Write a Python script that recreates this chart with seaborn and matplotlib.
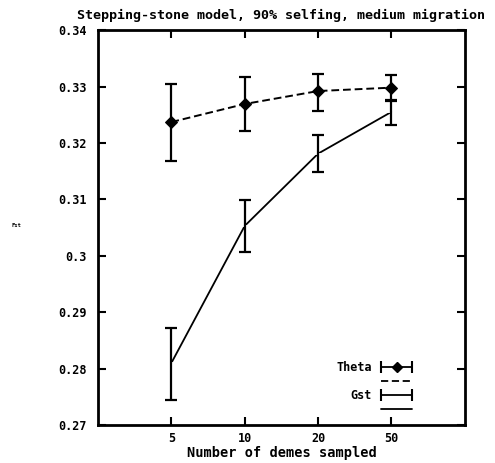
import numpy as np
import pandas as pd
import matplotlib
matplotlib.use('Agg')
import matplotlib.pyplot as plt
import seaborn as sns
from matplotlib.lines import Line2D
from matplotlib.legend_handler import HandlerLine2D

# data
demes = ['5', '10', '20', '50']
theta = [0.3237, 0.3269, 0.3292, 0.3298]
theta_lo = [0.3168, 0.3222, 0.3257, 0.3276]
theta_hi = [0.3305, 0.3316, 0.3323, 0.3321]
gst = [0.2810, 0.3053, 0.3181, 0.3255]
gst_lo = [0.2744, 0.3007, 0.3149, 0.3232]
gst_hi = [0.2872, 0.3098, 0.3214, 0.3275]

sns.set_style('ticks', {'axes.edgecolor': 'black', 'xtick.color': 'black',
                        'ytick.color': 'black', 'text.color': 'black',
                        'axes.labelcolor': 'black'})
plt.rcParams['font.family'] = ['DejaVu Sans Mono']
plt.rcParams['font.weight'] = 'bold'

pos = np.arange(1, len(demes) + 1)
df = pd.DataFrame({'pos': np.concatenate([pos, pos]),
                   'val': theta + gst,
                   'series': ['Theta'] * 4 + ['Gst'] * 4})

fig = plt.figure(figsize=(4.95, 4.63), dpi=100)
ax = fig.add_axes([0.198, 0.082, 0.741, 0.853])

sns.lineplot(data=df[df.series == 'Theta'], x='pos', y='val', ax=ax,
             color='black', lw=1.4, linestyle=(0, (4, 2)), marker='D',
             markersize=6, markeredgecolor='black', legend=False)
sns.lineplot(data=df[df.series == 'Gst'], x='pos', y='val', ax=ax,
             color='black', lw=1.3, marker='+', markersize=9,
             markeredgewidth=1.3, legend=False)

t = np.array(theta); g = np.array(gst)
ax.errorbar(pos, t, yerr=[t - np.array(theta_lo), np.array(theta_hi) - t],
            fmt='none', ecolor='black', elinewidth=1.6, capsize=4, capthick=1.6)
ax.errorbar(pos, g, yerr=[g - np.array(gst_lo), np.array(gst_hi) - g],
            fmt='none', ecolor='black', elinewidth=1.6, capsize=4, capthick=1.6)

ax.set_xlim(0, 5)
ax.set_ylim(0.27, 0.34)
ax.set_xticks(pos)
ax.set_xticklabels(demes)
ax.set_yticks([0.27, 0.28, 0.29, 0.30, 0.31, 0.32, 0.33, 0.34])
ax.set_yticklabels(['0.27', '0.28', '0.29', '0.3', '0.31', '0.32', '0.33', '0.34'])
ax.tick_params(direction='in', top=True, right=True, length=6, width=1.5,
               labelsize=8.5, colors='black')
ax.tick_params(axis='x', pad=5)
ax.tick_params(axis='y', pad=8)
for s in ax.spines.values():
    s.set_linewidth(2)
    s.set_color('black')

ax.set_xlabel('Number of demes sampled', fontsize=9.8, fontweight='bold', labelpad=1)
ax.set_ylabel('Fst', fontsize=4, fontweight='bold', rotation=0, labelpad=30)
ax.set_title('Stepping-stone model, 90% selfing, medium migration',
             fontsize=9.6, fontweight='bold', pad=8)

# gnuplot-like key
cap_th = Line2D([], [], color='black', lw=1.3, marker='|', markersize=9, markeredgewidth=1.5)
dia = Line2D([], [], color='black', lw=0, marker='D', markersize=5)
cap_g = Line2D([], [], color='black', lw=1.3, marker='|', markersize=9, markeredgewidth=1.5)
dash = Line2D([], [], color='black', lw=1.3, linestyle=(0, (4, 2)))
solid = Line2D([], [], color='black', lw=1.3)
ax.legend([(cap_th, dia), dash, (cap_g,), solid], ['Theta', '', 'Gst', ''],
          loc='lower right', bbox_to_anchor=(0.895, -0.005), frameon=False,
          markerfirst=False, numpoints=2, handlelength=3.2, fontsize=8.5,
          labelspacing=0.1, handletextpad=0.5,
          handler_map={dia: HandlerLine2D(numpoints=1)})

fig.savefig('out.png', dpi=100)
